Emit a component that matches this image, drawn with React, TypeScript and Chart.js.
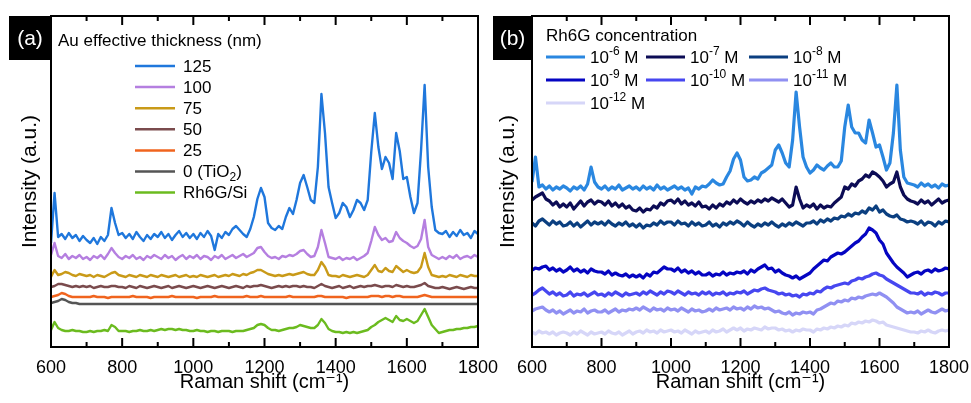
import React, { useEffect, useRef } from "react";
import { Chart, registerables } from "chart.js";
Chart.register(...registerables);

const FONT = "'Liberation Sans', Arial, 'DejaVu Sans', sans-serif";

// Raman shift axis (cm^-1)
const ramanShift = [
  600, 610, 620, 630, 640, 650, 660, 670, 680, 690,
  700, 710, 720, 730, 740, 750, 760, 770, 780, 790,
  800, 810, 820, 830, 840, 850, 860, 870, 880, 890,
  900, 910, 920, 930, 940, 950, 960, 970, 980, 990,
  1000, 1010, 1020, 1030, 1040, 1050, 1060, 1070, 1080, 1090,
  1100, 1110, 1120, 1130, 1140, 1150, 1160, 1170, 1180, 1190,
  1200, 1210, 1220, 1230, 1240, 1250, 1260, 1270, 1280, 1290,
  1300, 1310, 1320, 1330, 1340, 1350, 1360, 1370, 1380, 1390,
  1400, 1410, 1420, 1430, 1440, 1450, 1460, 1470, 1480, 1490,
  1500, 1510, 1520, 1530, 1540, 1550, 1560, 1570, 1580, 1590,
  1600, 1610, 1620, 1630, 1640, 1650, 1660, 1670, 1680, 1690,
  1700, 1710, 1720, 1730, 1740, 1750, 1760, 1770, 1780, 1790,
  1800,
];
const xTickStep = 200;

// ---------- Panel (a): Au effective thickness ----------
const thicknessLabels = ["125", "100", "75", "50", "25", "0 (TiO_{2})", "Rh6G/Si"];
const thicknessColors = ["#1f77dc", "#b57fe0", "#c99a18", "#7a4b4d", "#f0641e", "#555555", "#6bbb1f"];

const au125 = [
  104, 154, 110, 113, 108, 114, 109, 112, 106, 111,
  107, 104, 109, 103, 110, 106, 112, 139, 124, 112,
  114, 109, 113, 108, 115, 110, 106, 112, 108, 113,
  110, 115, 109, 113, 107, 112, 116, 110, 114, 109,
  113, 108, 114, 110, 116, 111, 97, 113, 109, 115,
  112, 118, 121, 117, 113, 110, 118, 130, 148, 159,
  150, 124, 119, 117, 121, 118, 130, 139, 133, 147,
  164, 172, 160, 147, 144, 180, 253, 214, 160, 144,
  129, 134, 144, 140, 130, 137, 147, 144, 137, 147,
  195, 234, 200, 178, 190, 184, 168, 214, 196, 168,
  170, 150, 134, 144, 197, 262, 180, 140, 117, 114,
  113, 116, 110, 115, 111, 117, 112, 114, 109, 116,
  113,
];
const au100 = [
  92, 104, 91, 89, 93, 88, 91, 89, 92, 88,
  90, 87, 91, 89, 92, 88, 93, 99, 94, 90,
  88, 91, 89, 92, 88, 90, 87, 91, 89, 92,
  90, 88, 92, 89, 91, 87, 90, 92, 88, 91,
  89, 92, 88, 91, 90, 87, 91, 89, 92, 88,
  90, 92, 89, 91, 93, 90, 92, 94, 99, 100,
  95, 91, 89, 90, 88, 91, 90, 92, 91, 93,
  96, 97, 93, 90, 91, 100, 117, 104, 90, 89,
  88, 90, 87, 89, 88, 90, 87, 89, 91, 94,
  106, 120, 112, 107, 109, 105, 106, 115, 109, 106,
  104, 101, 99, 101, 108, 127, 100, 92, 90, 88,
  90, 88, 91, 89, 92, 88, 90, 91, 89, 92,
  90,
];
const au75 = [
  70, 77, 72, 73, 75, 74, 72, 71, 73, 72,
  71, 72, 70, 72, 71, 70, 72, 74, 75, 72,
  71, 70, 72, 71, 70, 72, 71, 70, 72, 71,
  70, 72, 71, 70, 71, 72, 70, 71, 72, 70,
  71, 70, 72, 71, 70, 71, 72, 70, 71, 72,
  71, 73, 72, 71, 73, 72, 74, 75, 77, 77,
  75, 73, 72, 71, 72, 71, 72, 73, 72, 73,
  74, 75, 73, 72, 72, 77, 85, 80, 72, 71,
  71, 70, 72, 71, 70, 71, 72, 71, 70, 72,
  77, 82, 76, 75, 79, 76, 75, 81, 78, 75,
  77, 75, 74, 75, 80, 94, 80, 72, 71, 70,
  71, 70, 72, 71, 70, 72, 71, 70, 72, 71,
  71,
];
const au50 = [
  60, 61, 63, 63, 62, 61, 60, 61, 60, 61,
  60, 61, 59, 60, 61, 60, 60, 61, 61, 60,
  60, 59, 61, 60, 59, 61, 60, 59, 60, 61,
  60, 59, 60, 61, 59, 60, 61, 60, 59, 60,
  61, 60, 59, 60, 61, 60, 59, 60, 61, 60,
  59, 60, 61, 60, 59, 61, 60, 61, 61, 62,
  61, 60, 59, 60, 61, 60, 61, 60, 61, 61,
  60, 61, 60, 60, 59, 61, 63, 61, 60, 59,
  60, 61, 59, 60, 61, 59, 60, 61, 60, 61,
  61, 62, 61, 60, 61, 61, 60, 62, 61, 60,
  61, 60, 60, 61, 62, 64, 61, 60, 59, 59,
  60, 59, 58, 59, 60, 59, 58, 59, 60, 59,
  59,
];
const au25 = [
  50, 51, 52, 54, 53, 51, 50, 50, 50, 50,
  50, 50, 51, 50, 50, 50, 49, 50, 50, 50,
  50, 50, 50, 51, 50, 50, 50, 50, 49, 50,
  50, 50, 50, 50, 51, 50, 50, 50, 50, 50,
  50, 49, 50, 50, 50, 50, 51, 50, 50, 50,
  50, 50, 50, 50, 50, 51, 50, 50, 50, 51,
  50, 50, 50, 50, 50, 50, 50, 51, 50, 50,
  50, 50, 50, 50, 50, 51, 51, 50, 50, 50,
  50, 50, 50, 49, 50, 50, 50, 50, 50, 50,
  51, 51, 51, 50, 51, 51, 50, 51, 51, 50,
  50, 50, 50, 50, 51, 52, 51, 50, 50, 50,
  50, 50, 50, 50, 50, 50, 50, 50, 50, 50,
  50,
];
const au0 = [
  44, 45, 46, 48, 47, 45, 44, 44, 43, 43,
  43, 43, 43, 43, 43, 43, 43, 43, 43, 43,
  43, 43, 43, 43, 43, 43, 43, 43, 43, 43,
  43, 43, 43, 43, 43, 43, 43, 43, 43, 43,
  43, 43, 43, 43, 43, 43, 43, 43, 43, 43,
  43, 43, 43, 43, 43, 43, 43, 43, 43, 43,
  43, 43, 43, 43, 43, 43, 43, 43, 43, 43,
  43, 43, 43, 43, 43, 43, 43, 43, 43, 43,
  43, 43, 43, 43, 43, 43, 43, 43, 43, 43,
  43, 43, 43, 43, 43, 43, 43, 43, 43, 43,
  43, 43, 43, 43, 43, 43, 43, 43, 43, 43,
  43, 43, 43, 43, 43, 43, 43, 43, 43, 43,
  43,
];
const rh6gSi = [
  17, 25, 19, 17, 16, 16, 17, 16, 16, 15,
  15, 16, 15, 16, 16, 17, 16, 22, 20, 16,
  16, 16, 15, 16, 16, 17, 16, 16, 17, 16,
  17, 18, 17, 18, 18, 17, 18, 17, 17, 16,
  16, 17, 16, 16, 15, 16, 16, 15, 16, 16,
  16, 15, 16, 16, 16, 17, 18, 19, 22, 23,
  22, 19, 17, 17, 16, 17, 18, 19, 19, 20,
  22, 21, 20, 19, 19, 22, 28, 24, 18, 16,
  15, 15, 14, 15, 14, 15, 14, 15, 16, 17,
  20, 22, 25, 27, 29, 27, 25, 31, 27, 26,
  28, 26, 24, 26, 32, 38, 30, 22, 18, 14,
  15, 16, 17, 17, 18, 18, 19, 19, 20, 20,
  21,
];
const thicknessSeries = [au125, au100, au75, au50, au25, au0, rh6gSi];

// ---------- Panel (b): Rh6G concentration ----------
const concLabels = ["10^{-6} M", "10^{-7} M", "10^{-8} M", "10^{-9} M", "10^{-10} M", "10^{-11} M", "10^{-12} M"];
const concColors = ["#2a87e0", "#0c0c55", "#0b3f80", "#0505c2", "#4747f0", "#9090f2", "#d6d6f8"];

const c6 = [
  165, 190, 160, 162, 158, 161, 157, 160, 158, 161,
  159, 156, 160, 158, 161, 157, 163, 180, 165, 160,
  158, 161, 157, 160, 158, 162, 157, 159, 161, 158,
  160, 157, 161, 158, 160, 157, 162, 158, 160, 157,
  159, 161, 158, 160, 157, 159, 153, 160, 158, 161,
  160, 163, 167, 164, 162, 163, 170, 176, 188, 194,
  187, 170, 166, 167, 170, 168, 174, 176, 179, 182,
  197, 202, 194, 184, 180, 207, 255, 220, 190, 180,
  174, 177, 182, 179, 177, 181, 184, 180, 180, 186,
  220, 242, 220, 214, 214, 207, 204, 227, 214, 200,
  202, 190, 177, 184, 214, 262, 197, 170, 164, 163,
  162, 160, 164, 161, 163, 160, 162, 159, 163, 161,
  162,
];
const c7 = [
  147, 150, 152, 154, 148, 146, 142, 145, 140, 143,
  140, 144, 138, 142, 146, 141, 145, 147, 143, 146,
  145, 142, 146, 141, 144, 140, 143, 139, 141, 137,
  136, 139, 135, 138, 137, 141, 139, 144, 142, 146,
  147, 144, 148, 143, 146, 142, 144, 141, 145, 140,
  141, 138, 142, 139, 143, 141, 145, 143, 147, 144,
  148, 145, 143, 146, 144, 147, 145, 148, 146, 149,
  147, 145, 148, 144, 140, 142, 160, 148, 139, 142,
  140, 143, 138, 142, 139, 141, 140, 144, 147, 150,
  160, 158, 163, 161, 166, 168, 172, 170, 175, 173,
  170, 166, 160, 163, 165, 175, 160, 152, 148, 146,
  145, 143, 147, 144, 146, 142, 145, 148, 144, 146,
  147,
];
const c8 = [
  124, 121, 126, 128, 125, 122, 126, 123, 125, 121,
  122, 125, 121, 124, 120, 123, 126, 122, 125, 123,
  125, 122, 126, 123, 121, 124, 122, 125, 121, 123,
  120, 123, 119, 122, 121, 124, 122, 126, 123, 125,
  125, 122, 126, 123, 124, 121, 125, 122, 124, 121,
  122, 125, 121, 123, 120, 124, 122, 125, 123, 126,
  124, 121, 125, 122, 120, 123, 121, 124, 122, 125,
  122, 120, 123, 121, 124, 122, 125, 123, 121, 124,
  124, 126, 123, 127, 125, 128, 126, 129, 128, 131,
  130, 133, 131, 134, 133, 136, 134, 139, 137, 141,
  135, 137, 133, 131, 130, 132, 128, 127, 125, 126,
  125, 123, 126, 122, 125, 124, 121, 125, 123, 126,
  125,
];
const c9 = [
  77, 79, 78, 80, 81, 77, 79, 76, 78, 75,
  77, 80, 76, 78, 75, 77, 74, 78, 76, 75,
  75, 73, 76, 72, 74, 72, 71, 73, 70, 72,
  70, 72, 69, 73, 71, 75, 74, 77, 80, 78,
  78, 76, 79, 75, 77, 74, 76, 73, 75, 72,
  72, 74, 71, 73, 72, 75, 72, 74, 73, 75,
  74, 76, 73, 77, 75, 78, 80, 82, 78, 79,
  75, 77, 74, 72, 71, 69, 71, 68, 70, 72,
  74, 78, 81, 84, 87, 86, 90, 92, 94, 93,
  95, 98, 101, 104, 106, 110, 113, 119, 117, 114,
  107, 103, 94, 89, 84, 80, 77, 74, 70, 72,
  74, 75, 73, 76, 77, 75, 78, 76, 77, 79,
  78,
];
const c10 = [
  52, 54, 57, 59, 56, 53, 55, 52, 54, 51,
  52, 55, 51, 53, 52, 54, 51, 53, 55, 52,
  53, 51, 54, 52, 55, 53, 51, 54, 52, 53,
  54, 52, 55, 53, 56, 54, 52, 55, 53, 56,
  55, 53, 56, 54, 52, 55, 53, 54, 52, 55,
  53, 55, 52, 54, 53, 55, 52, 54, 53, 55,
  54, 56, 53, 55, 57, 56, 58, 59, 57, 56,
  55, 53, 54, 52, 53, 51, 52, 50, 53, 52,
  54, 53, 56, 55, 58, 60, 59, 61, 62, 63,
  64, 63, 66, 67, 69, 68, 70, 71, 73, 74,
  72, 71, 68, 66, 64, 62, 60, 58, 56, 54,
  54, 53, 55, 52, 54, 53, 55, 54, 52, 54,
  54,
];
const c11 = [
  36, 38, 39, 40, 37, 35, 37, 34, 36, 33,
  35, 37, 34, 36, 35, 38, 34, 36, 37, 35,
  35, 37, 34, 36, 38, 35, 37, 36, 38, 37,
  39, 37, 40, 38, 36, 39, 37, 38, 36, 39,
  37, 38, 36, 39, 37, 35, 38, 36, 37, 35,
  36, 38, 36, 39, 37, 38, 39, 37, 40, 38,
  39, 37, 40, 38, 41, 39, 40, 38, 39, 37,
  35, 36, 34, 33, 35, 32, 34, 33, 35, 34,
  35, 33, 37, 38, 40, 42, 44, 43, 46, 45,
  47, 46, 49, 48, 50, 49, 51, 52, 53, 52,
  54, 52, 50, 47, 44, 40, 38, 36, 34, 35,
  34, 36, 33, 35, 37, 35, 34, 36, 38, 36,
  37,
];
const c12 = [
  15, 13, 16, 14, 15, 13, 15, 12, 14, 15,
  14, 12, 15, 13, 16, 14, 12, 15, 13, 14,
  15, 13, 16, 14, 13, 15, 12, 14, 16, 13,
  15, 16, 14, 17, 15, 16, 14, 17, 15, 16,
  17, 15, 16, 14, 17, 15, 13, 16, 14, 15,
  16, 14, 17, 15, 16, 18, 15, 17, 19, 17,
  19, 16, 18, 17, 19, 18, 17, 20, 18, 19,
  19, 17, 18, 16, 17, 15, 17, 16, 18, 17,
  17, 15, 18, 17, 19, 18, 20, 19, 21, 20,
  22, 21, 24, 23, 25, 24, 26, 25, 27, 26,
  24, 25, 22, 21, 20, 19, 18, 17, 16, 15,
  15, 14, 16, 15, 17, 15, 14, 16, 17, 16,
  17,
];
const concSeries = [c6, c7, c8, c9, c10, c11, c12];

// ---------- helpers ----------
function drawRich(ctx: CanvasRenderingContext2D, text: string, x: number, y: number, size: number) {
  const parts = text.split(/(\^\{[^}]*\}|_\{[^}]*\})/).filter((p) => p.length);
  let cx = x;
  for (const p of parts) {
    if (p.startsWith("^{")) {
      const t = p.slice(2, -1);
      ctx.font = `${Math.round(size * 0.7)}px ${FONT}`;
      ctx.fillText(t, cx, y - size * 0.38);
      cx += ctx.measureText(t).width;
    } else if (p.startsWith("_{")) {
      const t = p.slice(2, -1);
      ctx.font = `${Math.round(size * 0.7)}px ${FONT}`;
      ctx.fillText(t, cx, y + size * 0.3);
      cx += ctx.measureText(t).width;
    } else {
      ctx.font = `${size}px ${FONT}`;
      ctx.fillText(p, cx, y);
      cx += ctx.measureText(p).width;
    }
  }
}

type LegendItem = { x: number; y: number; len: number; gap: number };
type PanelDecor = {
  tag: string;
  box: [number, number, number, number];
  title: string;
  titlePos: [number, number];
  items: LegendItem[];
  labels: string[];
  colors: string[];
  legendLine: number;
};

function decorPlugin(d: PanelDecor) {
  return {
    id: "decor",
    afterDraw(chart: any) {
      const { ctx, chartArea } = chart;
      const xs = chart.scales.x;
      ctx.save();
      // frame
      ctx.strokeStyle = "#000";
      ctx.lineWidth = 2;
      ctx.strokeRect(chartArea.left, chartArea.top, chartArea.right - chartArea.left, chartArea.bottom - chartArea.top);
      // ticks (major every 200, minor every 100), inside, top and bottom
      for (let v = xs.min; v <= xs.max; v += xTickStep / 2) {
        const px = xs.getPixelForValue(v);
        const major = (v - xs.min) % xTickStep === 0;
        const len = major ? 9 : 5;
        ctx.beginPath();
        ctx.moveTo(px, chartArea.top);
        ctx.lineTo(px, chartArea.top + len);
        ctx.moveTo(px, chartArea.bottom);
        ctx.lineTo(px, chartArea.bottom - len);
        ctx.stroke();
      }
      // panel tag
      const [bx, by, bw, bh] = d.box;
      ctx.fillStyle = "#000";
      ctx.fillRect(bx, by, bw, bh);
      ctx.fillStyle = "#fff";
      ctx.font = `21px ${FONT}`;
      ctx.textAlign = "center";
      ctx.textBaseline = "middle";
      ctx.fillText(d.tag, bx + bw / 2, by + bh / 2 + 1);
      // legend
      ctx.textAlign = "left";
      ctx.fillStyle = "#000";
      ctx.font = `17px ${FONT}`;
      ctx.fillText(d.title, d.titlePos[0], d.titlePos[1]);
      d.items.forEach((it, i) => {
        ctx.strokeStyle = d.colors[i];
        ctx.lineWidth = d.legendLine;
        ctx.beginPath();
        ctx.moveTo(it.x, it.y);
        ctx.lineTo(it.x + it.len, it.y);
        ctx.stroke();
        ctx.fillStyle = "#000";
        drawRich(ctx, d.labels[i], it.x + it.len + it.gap, it.y + 1, 17);
      });
      ctx.restore();
    },
  };
}

function makeChart(
  canvas: HTMLCanvasElement,
  series: number[][],
  colors: string[],
  names: string[],
  lineWidth: number,
  yWidth: number,
  yTitlePad: number,
  decor: PanelDecor
) {
  return new Chart(canvas, {
    type: "line",
    data: {
      datasets: series.map((s, k) => ({
        label: names[k],
        data: ramanShift.map((x, i) => ({ x, y: s[i] })),
        borderColor: colors[k],
        borderWidth: lineWidth,
        borderJoinStyle: "round",
        pointRadius: 0,
        tension: 0,
        fill: false,
      })),
    },
    options: {
      animation: false,
      responsive: false,
      events: [],
      layout: { padding: { top: 16, right: 22, bottom: 0, left: 0 } },
      plugins: { legend: { display: false }, tooltip: { enabled: false } },
      scales: {
        x: {
          type: "linear",
          min: ramanShift[0],
          max: ramanShift[ramanShift.length - 1],
          grid: { display: false, drawTicks: false },
          border: { display: false },
          ticks: {
            stepSize: xTickStep,
            autoSkip: false,
            maxRotation: 0,
            padding: 10,
            color: "#000",
            font: { family: FONT, size: 18 },
            callback: (v: any) => String(v),
          },
          title: {
            display: true,
            text: "Raman shift (cm\u207B\u00B9)",
            color: "#000",
            font: { family: FONT, size: 20 },
            padding: { top: 0, bottom: 9 },
          },
          afterFit: (s: any) => {
            s.height = 56;
            s.paddingLeft = 0;
            s.paddingRight = 0;
          },
        },
        y: {
          min: 0,
          max: 331,
          grid: { display: false, drawTicks: false },
          border: { display: false },
          ticks: { display: false },
          title: {
            display: true,
            text: "Intensity (a.u.)",
            color: "#000",
            font: { family: FONT, size: 21 },
            padding: { top: yTitlePad, bottom: 0 },
          },
          afterFit: (s: any) => {
            s.width = yWidth;
            s.paddingTop = 0;
            s.paddingBottom = 0;
          },
        },
      },
    } as any,
    plugins: [decorPlugin(decor) as any],
  });
}

export default function App() {
  const refA = useRef<HTMLCanvasElement>(null);
  const refB = useRef<HTMLCanvasElement>(null);

  useEffect(() => {
    const rowA = (i: number) => 66 + i * 21.1;
    const decorA: PanelDecor = {
      tag: "(a)",
      box: [9, 16, 42, 44],
      title: "Au effective thickness (nm)",
      titlePos: [58, 41],
      items: thicknessLabels.map((_, i) => ({ x: 135, y: rowA(i), len: 40, gap: 8 })),
      labels: thicknessLabels,
      colors: thicknessColors,
      legendLine: 2.5,
    };
    const colX = [56, 156, 259];
    const rowY = [57, 80, 103];
    const decorB: PanelDecor = {
      tag: "(b)",
      box: [3, 16, 39, 44],
      title: "Rh6G concentration",
      titlePos: [56, 36],
      items: concLabels.map((_, i) => ({ x: colX[i % 3], y: rowY[Math.floor(i / 3)], len: 39, gap: 5 })),
      labels: concLabels,
      colors: concColors,
      legendLine: 3,
    };
    const a = makeChart(refA.current!, thicknessSeries, thicknessColors, thicknessLabels, 2.4, 51, 18, decorA);
    const b = makeChart(refB.current!, concSeries, concColors, concLabels, 3.2, 42, 6, decorB);
    return () => {
      a.destroy();
      b.destroy();
    };
  }, []);

  return (
    <div style={{ position: "absolute", left: 0, top: 0, width: 971, height: 403, background: "#fff" }}>
      <canvas ref={refA} width={500} height={403} style={{ position: "absolute", left: 0, top: 0 }} />
      <canvas ref={refB} width={481} height={403} style={{ position: "absolute", left: 490, top: 0 }} />
    </div>
  );
}
